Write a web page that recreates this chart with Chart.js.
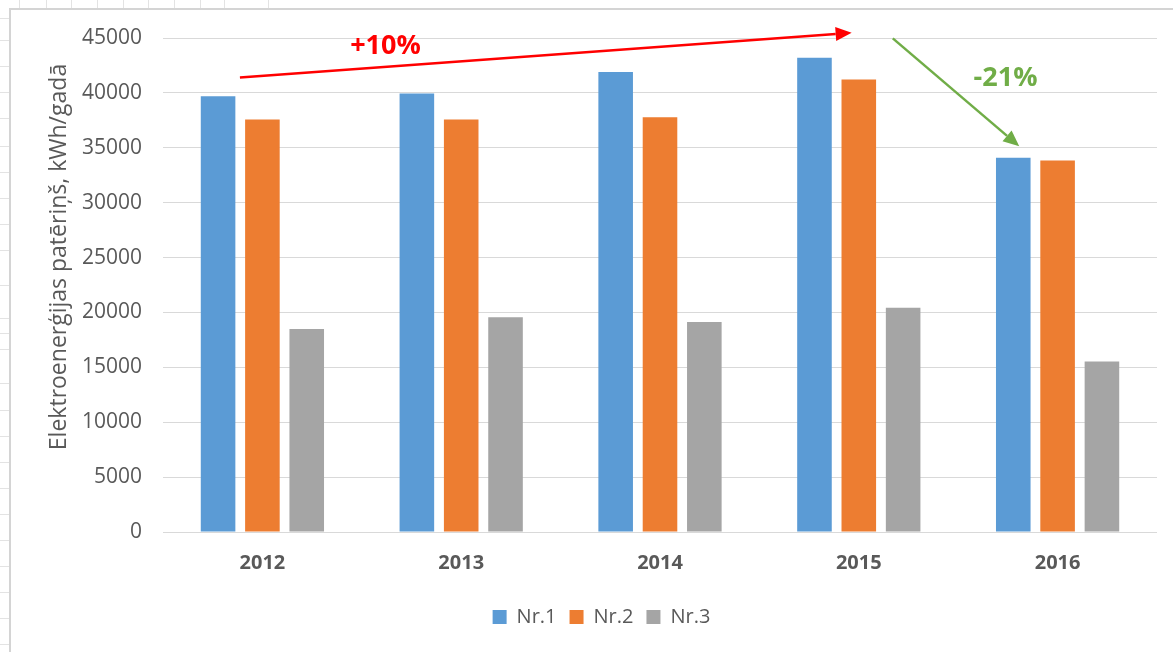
<!DOCTYPE html>
<html><head><meta charset="utf-8">
<script src="https://cdn.jsdelivr.net/npm/chart.js@4.4.0/dist/chart.umd.min.js"></script>
<style>html,body{margin:0;padding:0;background:#fff;overflow:hidden}#wrap{width:1173px;height:652px;position:relative}canvas{display:block}</style>
</head><body><div id="wrap"><canvas id="c" width="1173" height="652"></canvas></div>
<script>
const categories = ['2012', '2013', '2014', '2015', '2016'];
const seriesNames = ['Nr.1', 'Nr.2', 'Nr.3'];
const nr1 = [39700, 39950, 41900, 43200, 34100];
const nr2 = [37580, 37580, 37790, 41230, 33840];
const nr3 = [18500, 19560, 19120, 20420, 15520];
const seriesColors = ['#5B9BD5', '#ED7D31', '#A5A5A5'];
const yAxisTitle = 'Elektroenerģijas patēriņš, kWh/gadā';
const yMin = 0, yMax = 45000, yStep = 5000;
// annotation arrows, in data space: [category index, value]
const arrowFrom = [[-0.113, 41400], [3.171, 44970]];
const arrowTo = [[2.964, 45480], [3.807, 35140]];
const arrowLabels = ['+10%', '-21%'];
const arrowLabelAt = [[0.619, 44220], [3.738, 41300]];
const arrowColors = ['#FF0000', '#70AD47'];

const FONT = "'Open Sans', 'Noto Sans', sans-serif";
const TEXT = '#595959';

const sheetPlugin = {
  id: 'sheet',
  beforeDraw(chart) {
    const ctx = chart.ctx;
    ctx.save();
    ctx.fillStyle = '#fff';
    ctx.fillRect(0, 0, chart.width, chart.height);
    ctx.strokeStyle = '#E3E3E3';
    ctx.lineWidth = 1;
    const colX = [19, 46, 71, 97, 123, 148, 174, 200, 224, 268];
    colX.forEach(x => { ctx.beginPath(); ctx.moveTo(x + 0.5, 0); ctx.lineTo(x + 0.5, 9); ctx.stroke(); });
    const rowY = [18, 40, 66, 92, 118, 146, 172, 198, 224, 250, 285, 318, 333, 349, 383, 410, 436, 462, 488, 514, 540, 566, 592, 618, 644];
    rowY.forEach(y => { ctx.beginPath(); ctx.moveTo(0, y + 0.5); ctx.lineTo(9, y + 0.5); ctx.stroke(); });
    ctx.strokeStyle = '#D4D4D4';
    ctx.lineWidth = 2;
    ctx.beginPath();
    ctx.moveTo(10, chart.height); ctx.lineTo(10, 9); ctx.lineTo(chart.width, 9);
    ctx.stroke();
    ctx.restore();
  }
};

const annotPlugin = {
  id: 'annot',
  afterDraw(chart) {
    const ctx = chart.ctx;
    const xs = chart.scales.x, ys = chart.scales.y;
    const P = (p) => [xs.getPixelForValue(p[0]), ys.getPixelForValue(p[1])];
    ctx.save();
    // axis title
    ctx.translate(59, 257);
    ctx.rotate(-Math.PI / 2);
    ctx.font = `23px ${FONT}`;
    ctx.fillStyle = TEXT;
    ctx.textAlign = 'center';
    ctx.textBaseline = 'middle';
    ctx.fillText(yAxisTitle, 0, 0);
    ctx.restore();

    for (let i = 0; i < arrowFrom.length; i++) {
      const [x1, y1] = P(arrowFrom[i]);
      const [x2, y2] = P(arrowTo[i]);
      const ang = Math.atan2(y2 - y1, x2 - x1);
      const L = 16, W = 7;
      const bx = x2 - L * Math.cos(ang), by = y2 - L * Math.sin(ang);
      ctx.save();
      ctx.strokeStyle = arrowColors[i];
      ctx.fillStyle = arrowColors[i];
      ctx.lineWidth = 2.5;
      ctx.beginPath(); ctx.moveTo(x1, y1); ctx.lineTo(bx, by); ctx.stroke();
      ctx.beginPath();
      ctx.moveTo(x2, y2);
      ctx.lineTo(bx + W * Math.sin(ang), by - W * Math.cos(ang));
      ctx.lineTo(bx - W * Math.sin(ang), by + W * Math.cos(ang));
      ctx.closePath(); ctx.fill();
      const [tx, ty] = P(arrowLabelAt[i]);
      ctx.font = `bold 27px ${FONT}`;
      ctx.textAlign = 'center';
      ctx.textBaseline = 'middle';
      ctx.fillText(arrowLabels[i], tx, ty);
      ctx.restore();
    }
  }
};

const seriesData = [nr1, nr2, nr3];
new Chart(document.getElementById('c'), {
  type: 'bar',
  data: {
    labels: categories,
    datasets: seriesNames.map((n, i) => ({
      label: n,
      data: seriesData[i],
      backgroundColor: seriesColors[i],
      borderWidth: 0,
      categoryPercentage: 0.669,
      barPercentage: 0.78
    }))
  },
  options: {
    responsive: false,
    animation: false,
    devicePixelRatio: 1,
    layout: { padding: { left: 46, top: 38, right: 16, bottom: 15 } },
    scales: {
      x: {
        grid: { display: false, drawTicks: false },
        border: { display: false },
        ticks: { color: TEXT, font: { family: FONT, size: 20, weight: 'bold' }, padding: 19 },
        afterFit(s) { s.height = 62; }
      },
      y: {
        min: yMin, max: yMax,
        grid: { color: '#D9D9D9', lineWidth: 1, drawTicks: false },
        border: { display: false },
        ticks: { stepSize: yStep, color: TEXT, font: { family: FONT, size: 21 }, padding: 21, callback: v => String(v) },
        afterFit(s) { s.width = 117; }
      }
    },
    plugins: {
      legend: {
        position: 'bottom',
        labels: { color: TEXT, font: { family: FONT, size: 20 }, boxWidth: 14, boxHeight: 14, padding: 13 }
      },
      tooltip: { enabled: false }
    }
  },
  plugins: [sheetPlugin, annotPlugin]
});
</script></body></html>
